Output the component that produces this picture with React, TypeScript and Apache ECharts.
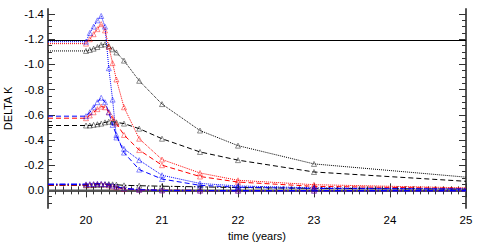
import React, { useEffect, useRef } from "react";
import * as echarts from "echarts";

// ---- data ----
const TIMES = [19.5, 20.0, 20.05, 20.1, 20.15, 20.2, 20.25, 20.3, 20.35, 20.4, 20.5, 20.7, 21.0, 21.5, 22.0, 23.0, 25.0];

const blueDotted = [-1.18, -1.18, -1.25, -1.3, -1.35, -1.385, -1.3, -0.97, -0.72, -0.42, -0.33, -0.24, -0.12, -0.055, -0.035, -0.02, -0.012];
const redDotted = [-1.165, -1.165, -1.2, -1.24, -1.28, -1.32, -1.27, -1.14, -1.01, -0.88, -0.66, -0.41, -0.245, -0.138, -0.08, -0.045, -0.02];
const blackDotted = [-1.107, -1.107, -1.115, -1.125, -1.138, -1.155, -1.16, -1.145, -1.12, -1.095, -1.03, -0.87, -0.685, -0.475, -0.355, -0.21, -0.105];

const blueDashed = [-0.589, -0.589, -0.62, -0.66, -0.7, -0.735, -0.7, -0.62, -0.52, -0.44, -0.3, -0.165, -0.09, -0.04, -0.025, -0.015, -0.01];
const redDashed = [-0.573, -0.573, -0.595, -0.62, -0.645, -0.665, -0.66, -0.62, -0.575, -0.53, -0.44, -0.32, -0.2, -0.11, -0.066, -0.032, -0.015];
const blackDashed = [-0.515, -0.515, -0.515, -0.52, -0.525, -0.53, -0.54, -0.545, -0.545, -0.54, -0.53, -0.49, -0.41, -0.305, -0.24, -0.146, -0.072];

const blueDashDot = [-0.048, -0.048, -0.05, -0.05, -0.052, -0.052, -0.05, -0.045, -0.038, -0.03, -0.015, -0.005, 0.0, 0.002, 0.003, 0.003, 0.003];
const redDashDot = [-0.045, -0.045, -0.046, -0.048, -0.05, -0.05, -0.048, -0.04, -0.032, -0.025, -0.012, -0.004, 0.0, 0.002, 0.002, 0.002, 0.002];
const blackDashDot = [-0.04, -0.04, -0.041, -0.042, -0.044, -0.045, -0.047, -0.05, -0.048, -0.045, -0.04, -0.037, -0.033, -0.028, -0.022, -0.016, -0.01];

const REF_LEVEL = -1.19;
const ZERO_LEVEL = 0.0;

const X_MIN = 19.5;
const X_MAX = 25;
const Y_MIN = -1.44;
const Y_MAX = 0.14;

const X_TICKS = [20, 21, 22, 23, 24, 25];
const Y_TICKS = [-1.4, -1.2, -1.0, -0.8, -0.6, -0.4, -0.2, 0.0];
const X_MINOR_STEP = 0.1;
const Y_MINOR_STEP = 0.05;

const FONT = "'Liberation Sans', Arial, Helvetica, sans-serif";

function minorValues(min: number, max: number, step: number, majors: number[]) {
  const out: number[] = [];
  const start = Math.ceil(min / step - 1e-9);
  const end = Math.floor(max / step + 1e-9);
  for (let i = start; i <= end; i++) {
    const v = Math.round(i * step * 1000) / 1000;
    if (!majors.some((m) => Math.abs(m - v) < 1e-6)) out.push(v);
  }
  return out;
}

export default function App() {
  const ref = useRef<HTMLDivElement>(null);

  useEffect(() => {
    if (!ref.current) return;
    const chart = echarts.init(ref.current, undefined, { renderer: "svg" });

    const xMinor = minorValues(X_MIN, X_MAX, X_MINOR_STEP, X_TICKS);
    const yMinor = minorValues(Y_MIN, Y_MAX, Y_MINOR_STEP, Y_TICKS);

    const frameLine = { show: true, lineStyle: { color: "#555", width: 2 } };
    const noLine = { show: false };

    const mkX = (position: string, major: boolean, labels: boolean, line: boolean): any => ({
      type: "value",
      position,
      min: X_MIN,
      max: X_MAX,
      axisLine: line ? frameLine : noLine,
      splitLine: { show: false },
      axisTick: {
        show: true,
        inside: true,
        length: major ? 7 : 4,
        customValues: major ? X_TICKS : xMinor,
        lineStyle: { color: "#333", width: 1 },
      },
      axisLabel: labels
        ? {
            show: true,
            customValues: X_TICKS,
            color: "#000",
            fontFamily: FONT,
            fontSize: 11.5,
            margin: 6,
          }
        : { show: false },
      ...(labels
        ? {
            name: "time (years)",
            nameLocation: "middle",
            nameGap: 19,
            nameTextStyle: { color: "#000", fontFamily: FONT, fontSize: 11 },
          }
        : {}),
    });

    const mkY = (position: string, major: boolean, labels: boolean, line: boolean): any => ({
      type: "value",
      position,
      inverse: true,
      min: Y_MIN,
      max: Y_MAX,
      axisLine: line ? frameLine : noLine,
      splitLine: { show: false },
      axisTick: {
        show: true,
        inside: true,
        length: major ? 7 : 4,
        customValues: major ? Y_TICKS : yMinor,
        lineStyle: { color: "#333", width: 1 },
      },
      axisLabel: labels
        ? {
            show: true,
            customValues: Y_TICKS,
            color: "#000",
            fontFamily: FONT,
            fontSize: 11.5,
            margin: 4,
            formatter: (v: number) => v.toFixed(1),
          }
        : { show: false },
      ...(labels
        ? {
            name: "DELTA K",
            nameLocation: "middle",
            nameGap: 33,
            nameTextStyle: { color: "#000", fontFamily: FONT, fontSize: 11 },
          }
        : {}),
    });

    const toData = (vals: number[]) =>
      TIMES.map((t, i) => {
        const edge = i === 0 || i === TIMES.length - 1;
        return edge ? { value: [t, vals[i]], symbol: "none" } : { value: [t, vals[i]] };
      });

    const DOT: any = "dotted";
    const DASH: any = [5, 3];
    const DASHDOT: any = [6, 2, 1.5, 2];

    const mkSeries = (vals: number[], color: string, type: any, width = 1): any => ({
      type: "line",
      xAxisIndex: 0,
      yAxisIndex: 0,
      data: toData(vals),
      symbol: "triangle",
      symbolSize: 5,
      showAllSymbol: true,
      lineStyle: { color, width, type },
      itemStyle: { color: "rgba(0,0,0,0)", borderColor: color, borderWidth: 0.6, opacity: 0.75 },
      z: 3,
    });

    const refLine = (v: number, color: string, width: number): any => ({
      type: "line",
      xAxisIndex: 0,
      yAxisIndex: 0,
      data: [
        [X_MIN, v],
        [X_MAX, v],
      ],
      symbol: "none",
      lineStyle: { color, width, type: "solid" },
      z: 2,
    });

    chart.setOption({
      animation: false,
      backgroundColor: "#fff",
      grid: {
        left: 48,
        right: 19,
        top: 9,
        bottom: 34,
        containLabel: false,
        outerBoundsMode: "none",
      },
      xAxis: [
        mkX("bottom", true, true, true),
        mkX("bottom", false, false, false),
        mkX("top", true, false, true),
        mkX("top", false, false, false),
      ],
      yAxis: [
        mkY("left", true, true, true),
        mkY("left", false, false, false),
        mkY("right", true, false, true),
        mkY("right", false, false, false),
      ],
      series: [
        refLine(REF_LEVEL, "#000", 1.2),
        refLine(ZERO_LEVEL, "#555", 1.6),
        mkSeries(blackDotted, "#000000", DOT),
        mkSeries(blackDashed, "#000000", DASH),
        mkSeries(blackDashDot, "#000000", DASHDOT),
        mkSeries(redDotted, "#ff0000", DOT),
        mkSeries(redDashed, "#ff0000", DASH),
        mkSeries(redDashDot, "#ff0000", DASHDOT, 1.4),
        mkSeries(blueDotted, "#0000ff", DOT),
        mkSeries(blueDashed, "#0000ff", DASH),
        mkSeries(blueDashDot, "#0000ff", DASHDOT, 1.4),
      ],
    });

    return () => chart.dispose();
  }, []);

  return (
    <div
      ref={ref}
      style={{ position: "fixed", left: 0, top: 0, width: 485, height: 242, background: "#fff" }}
    />
  );
}
